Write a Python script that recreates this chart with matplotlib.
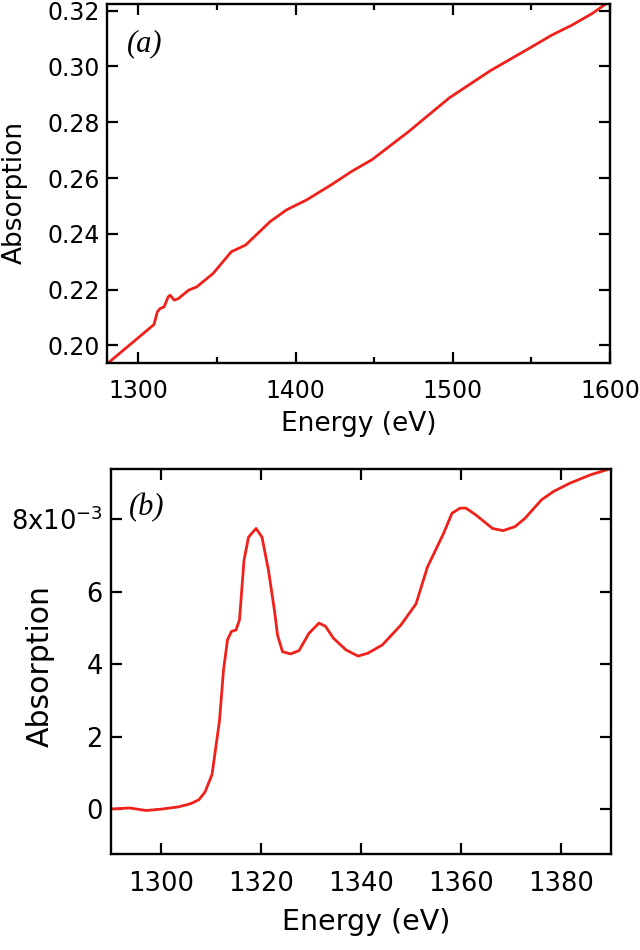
import matplotlib
matplotlib.use("Agg")
import matplotlib.pyplot as plt
from matplotlib.ticker import MultipleLocator, FixedLocator

# (a) wide scan
energy_a = [1280.5, 1309.9, 1312.0, 1313.7, 1316.3, 1318.9, 1320.2, 1322.8, 1325.4,
            1331.9, 1337.1, 1347.5, 1359.1, 1368.2, 1383.8, 1394.2, 1407.1, 1422.7,
            1435.7, 1448.6, 1472.0, 1485.0, 1497.9, 1523.9, 1549.8, 1562.8, 1575.7,
            1588.7, 1600.0]
absorb_a = [0.1936, 0.2075, 0.2120, 0.2132, 0.2138, 0.2174, 0.2180, 0.2162, 0.2168,
            0.2198, 0.2210, 0.2258, 0.2336, 0.2360, 0.2444, 0.2486, 0.2522, 0.2576,
            0.2624, 0.2666, 0.2767, 0.2828, 0.2888, 0.2985, 0.3069, 0.3112, 0.3148,
            0.3190, 0.3235]

# (b) edge region, background subtracted (units of 1e-3)
energy_b = [1290.0, 1293.7, 1297.0, 1300.2, 1303.5, 1306.0, 1307.6, 1308.8, 1310.2,
            1311.7, 1312.5, 1313.3, 1314.1, 1315.0, 1315.7, 1316.6, 1317.5, 1319.0,
            1320.2, 1321.5, 1322.7, 1323.3, 1324.3, 1325.9, 1327.6, 1329.6, 1331.6,
            1332.9, 1334.5, 1337.0, 1339.4, 1341.4, 1344.3, 1348.0, 1351.0, 1353.3,
            1356.5, 1358.2, 1359.8, 1361.0, 1363.0, 1366.3, 1368.4, 1370.8, 1372.8,
            1376.1, 1378.5, 1381.8, 1385.9, 1389.7]
absorb_b = [0.00, 0.03, -0.04, 0.00, 0.06, 0.15, 0.26, 0.47, 0.95,
            2.44, 3.83, 4.67, 4.90, 4.94, 5.22, 6.86, 7.50, 7.74,
            7.50, 6.58, 5.47, 4.80, 4.34, 4.28, 4.37, 4.85, 5.13,
            5.04, 4.71, 4.39, 4.22, 4.30, 4.53, 5.08, 5.66, 6.68,
            7.60, 8.16, 8.30, 8.30, 8.11, 7.74, 7.68, 7.79, 8.02,
            8.53, 8.76, 8.99, 9.22, 9.38]

b_yticks = [0, 2, 4, 6, 8]
b_yticklabels = ["0", "2", "4", "6", "8x10$^{-3}$"]

red = "#f0201a"
W, H = 640, 950

plt.rcParams["font.family"] = ["DejaVu Sans"]
fig = plt.figure(figsize=(6.4, 9.5), dpi=100)


def px_axes(left, right, top, bottom):
    return fig.add_axes([left / W, 1 - bottom / H, (right - left) / W, (bottom - top) / H])


def style(ax, size, pad_x, pad_y):
    for s in ax.spines.values():
        s.set_linewidth(1.7)
    ax.tick_params(which="both", direction="in", top=True, right=True, width=1.6)
    ax.tick_params(which="major", length=8)
    ax.tick_params(which="minor", length=4)
    ax.tick_params(axis="x", labelsize=size, pad=pad_x)
    ax.tick_params(axis="y", labelsize=size, pad=pad_y)


# ---- panel (a)
ax1 = px_axes(107, 610, 4, 363)
ax1.plot(energy_a, absorb_a, color=red, lw=2)
ax1.set_xlim(1280, 1600)
ax1.set_ylim(0.1937, 0.3224)
ax1.xaxis.set_major_locator(MultipleLocator(100))
ax1.xaxis.set_minor_locator(MultipleLocator(50))
ax1.yaxis.set_major_locator(MultipleLocator(0.02))
ax1.yaxis.set_major_formatter(matplotlib.ticker.FormatStrFormatter("%.2f"))
style(ax1, 17, 11.5, 5)
ax1.set_xlabel("Energy (eV)", fontsize=19)
ax1.xaxis.set_label_coords(0.5, -0.135)
ax1.xaxis.label.set_va("top")
ax1.set_ylabel("Absorption", fontsize=19)
ax1.yaxis.set_label_coords(-0.158, 0.475)
ax1.text(0.074, 0.89, "(a)", transform=ax1.transAxes, fontsize=22,
         family="Liberation Serif", style="italic", ha="center", va="center")

# ---- panel (b)
ax2 = px_axes(111, 611, 469, 854)
ax2.plot(energy_b, absorb_b, color=red, lw=2)
ax2.set_xlim(1290, 1390)
ax2.set_ylim(-1.24, 9.38)
ax2.xaxis.set_major_locator(MultipleLocator(20))
ax2.yaxis.set_major_locator(FixedLocator(b_yticks))
ax2.set_yticklabels(b_yticklabels)
style(ax2, 18.5, 12, 6)
ax2.set_xlabel("Energy (eV)", fontsize=20.5)
ax2.xaxis.set_label_coords(0.51, -0.14)
ax2.xaxis.label.set_va("top")
ax2.set_ylabel("Absorption", fontsize=21.5)
ax2.yaxis.set_label_coords(-0.112, 0.488)
ax2.text(0.072, 0.9, "(b)", transform=ax2.transAxes, fontsize=22,
         family="Liberation Serif", style="italic", ha="center", va="center")

fig.savefig("out.png", dpi=100)
